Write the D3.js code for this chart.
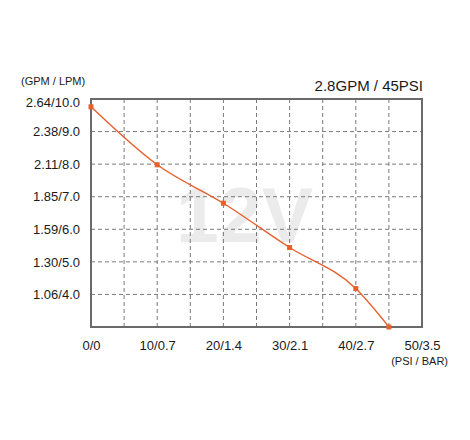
<!DOCTYPE html>
<html>
<head>
<meta charset="utf-8">
<title>12V pump curve</title>
<script src="https://d3js.org/d3.v7.min.js"></script>
<style>
    body { margin: 0; background: #fff; }
    text { font-family: "Liberation Sans", Arial, sans-serif; fill: #1a1a1a; }
</style>
</head>
<body>
<div id="chart"></div>
<script>
// pressure (PSI) vs flow (LPM)
var psi = [0, 10, 20, 30, 40, 45];
var lpm = [9.76, 7.98, 6.80, 5.44, 4.18, 3.0];

// tick labels
var xTickVals = [0, 10, 20, 30, 40, 50];
var xTickLabels = ["0/0", "10/0.7", "20/1.4", "30/2.1", "40/2.7", "50/3.5"];
var yTickVals = [10, 9, 8, 7, 6, 5, 4];
var yTickLabels = ["2.64/10.0", "2.38/9.0", "2.11/8.0", "1.85/7.0", "1.59/6.0", "1.30/5.0", "1.06/4.0"];

var title = "2.8GPM / 45PSI";
var watermark = "12V";

var width = 470, height = 440;
var margin = { top: 99, right: 48, bottom: 113, left: 91 };

var svg = d3.select("#chart").append("svg")
    .attr("width", width)
    .attr("height", height);

var x = d3.scaleLinear().domain([0, 50]).range([margin.left, width - margin.right]);
var y = d3.scaleLinear().domain([3, 10]).range([height - margin.bottom, margin.top]);

// watermark behind everything
svg.append("text")
    .attr("x", x(23.2))
    .attr("y", y(5.6))
    .attr("text-anchor", "middle")
    .style("font-size", "77px")
    .style("font-weight", "bold")
    .style("fill", "#ebebeb")
    .text(watermark);

// dashed grid
var gridX = d3.range(5, 50, 5);
var gridY = d3.range(4, 10, 1);
svg.append("g").selectAll("line").data(gridX).enter().append("line")
    .attr("x1", function (d) { return x(d); })
    .attr("x2", function (d) { return x(d); })
    .attr("y1", y(3)).attr("y2", y(10))
    .attr("stroke", "#7a7a7a").attr("stroke-width", 1)
    .attr("stroke-dasharray", "4,3");
svg.append("g").selectAll("line").data(gridY).enter().append("line")
    .attr("y1", function (d) { return y(d); })
    .attr("y2", function (d) { return y(d); })
    .attr("x1", x(0)).attr("x2", x(50))
    .attr("stroke", "#7a7a7a").attr("stroke-width", 1)
    .attr("stroke-dasharray", "4,3");

// frame
svg.append("rect")
    .attr("x", x(0)).attr("y", y(10))
    .attr("width", x(50) - x(0)).attr("height", y(3) - y(10))
    .attr("fill", "none")
    .attr("stroke", "#6a6a6a")
    .attr("stroke-width", 2);

// axes (labels only)
var xAxis = svg.append("g")
    .attr("transform", "translate(0," + y(3) + ")")
    .call(d3.axisBottom(x).tickValues(xTickVals).tickSize(0).tickPadding(14)
        .tickFormat(function (d, i) { return xTickLabels[i]; }));
var yAxis = svg.append("g")
    .attr("transform", "translate(" + x(0) + ",0)")
    .call(d3.axisLeft(y).tickValues(yTickVals).tickSize(0).tickPadding(11)
        .tickFormat(function (d, i) { return yTickLabels[i]; }));
[xAxis, yAxis].forEach(function (a) {
    a.select(".domain").remove();
    a.selectAll("text").style("font-size", "13px")
        .style("font-family", "'Liberation Sans', Arial, sans-serif").attr("fill", "#1a1a1a");
});
// top label sits a little under the frame
yAxis.selectAll(".tick").filter(function (d) { return d === 10; })
    .select("text").attr("y", 3);

// unit labels and title
svg.append("text")
    .attr("x", 21).attr("y", 85)
    .style("font-size", "11px")
    .text("(GPM / LPM)");
svg.append("text")
    .attr("x", 448).attr("y", 365)
    .attr("text-anchor", "end")
    .style("font-size", "11px")
    .text("(PSI / BAR)");
svg.append("text")
    .attr("x", x(50) + 1).attr("y", 91)
    .attr("text-anchor", "end")
    .style("font-size", "15px")
    .text(title);

// curve
var data = psi.map(function (p, i) { return { p: p, q: lpm[i] }; });
var line = d3.line()
    .x(function (d) { return x(d.p); })
    .y(function (d) { return y(d.q); })
    .curve(d3.curveMonotoneX);
svg.append("path")
    .datum(data)
    .attr("d", line)
    .attr("fill", "none")
    .attr("stroke", "#e8602c")
    .attr("stroke-width", 1.4);

svg.append("g").selectAll("rect").data(data).enter().append("rect")
    .attr("x", function (d) { return x(d.p) - 2.5; })
    .attr("y", function (d) { return y(d.q) - 2.5; })
    .attr("width", 5).attr("height", 5)
    .attr("fill", "#e8602c");
</script>
</body>
</html>
